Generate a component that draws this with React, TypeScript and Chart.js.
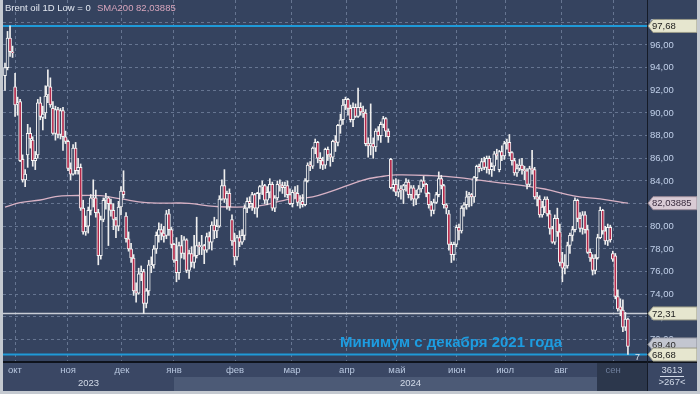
import React, { useEffect, useRef } from 'react';
import { Chart, registerables } from 'chart.js';

Chart.register(...registerables);

// ---------- DATA (Brent oil, daily candles, 26 Sep 2023 .. 10 Sep 2024) ----------
const opens: number[] = [
  93.3, 94.0, 96.6, 95.4,
  92.3, 90.8, 91.0, 85.9, 84.1, 86.3, 88.2, 87.6, 85.8, 86.3, 90.9, 89.6, 90.0, 91.6, 92.3, 90.4, 88.2, 90.3, 88.1, 90.2, 87.9, 87.5,
  85.1, 84.6, 86.9, 84.9, 85.2, 81.6, 79.5, 80.0, 81.4, 82.5, 82.5, 81.2, 77.4, 80.6, 82.3, 82.5, 82.0, 81.4, 80.6, 80.0, 81.7, 83.1,
  80.9, 78.9, 78.0, 77.2, 74.3, 74.1, 75.8, 76.0, 73.2, 74.3, 76.5, 76.6, 78.0, 79.2, 79.7, 79.4, 79.2, 81.1, 79.7, 78.4,
  77.0, 75.9, 78.3, 77.6, 78.8, 76.1, 77.6, 76.8, 77.4, 78.3, 78.2, 78.3, 77.9, 79.1, 78.6, 80.1, 79.6, 80.0, 82.4, 83.6, 82.4, 82.9,
  80.6, 78.7, 77.3, 79.0, 78.6, 79.2, 81.6, 82.2, 82.0, 82.8, 81.6, 82.9, 83.5, 83.6, 82.3, 83.0, 83.7, 81.6, 82.5, 83.7, 83.6,
  83.4, 83.6, 82.8, 82.0, 83.0, 82.9, 82.1, 82.2, 81.9, 84.0, 85.4, 85.3, 86.9, 87.4, 86.0, 85.8, 85.4, 86.8, 86.3, 86.1,
  87.5, 87.4, 88.9, 89.4, 90.7, 91.2, 90.4, 89.4, 90.5, 89.7, 90.5, 90.1, 90.0, 87.3, 87.1, 87.3, 87.0, 88.4, 88.0, 89.0, 89.5, 88.4,
  85.9, 83.4, 83.7, 83.0, 83.3, 83.2, 83.6, 83.9, 82.8, 83.4, 82.4, 82.8, 83.3, 84.0, 83.7, 82.9, 81.9, 81.4, 82.1, 82.8, 84.2, 83.6, 81.9,
  81.1, 78.4, 77.5, 78.4, 79.9, 79.6, 81.6, 81.9, 82.6, 82.8, 82.6, 84.3, 85.3, 85.1, 85.7, 85.2, 86.0, 85.0, 85.3, 86.4,
  85.0, 86.6, 86.2, 87.3, 87.4, 86.5, 85.8, 84.7, 85.1, 85.4, 85.0, 84.9, 83.7, 85.1, 85.0, 82.6, 82.4, 81.0, 81.7, 82.4, 81.1, 79.8, 78.6,
  80.7, 79.5, 76.8, 76.3, 76.5, 78.3, 79.2, 79.7, 82.3, 80.7, 79.8, 81.0, 79.7, 77.7, 77.2, 76.1, 77.2, 79.0, 81.4, 79.6, 78.7, 79.9,
  77.6, 77.4, 73.8, 72.9, 72.6, 71.1, 71.8,
];
const highs: number[] = [
  94.4, 97.2, 97.68, 95.9,
  93.5, 91.4, 91.2, 86.3, 85.0, 89.0, 88.7, 87.9, 86.6, 91.2, 91.4, 90.6, 92.4, 93.8, 93.1, 91.0, 90.6, 90.5, 90.4, 90.5, 88.4, 87.6,
  85.6, 87.2, 87.4, 86.0, 85.5, 82.3, 80.9, 81.7, 82.8, 84.1, 83.2, 81.5, 80.9, 82.5, 82.9, 82.6, 82.4, 82.0, 80.8, 82.2, 83.5, 84.9,
  81.2, 79.5, 78.5, 77.5, 75.0, 76.3, 76.5, 76.2, 74.5, 77.0, 77.3, 78.3, 79.5, 80.3, 80.2, 80.0, 81.4, 81.5, 79.9, 78.5,
  79.0, 78.6, 79.2, 79.1, 78.9, 77.9, 78.2, 79.2, 80.8, 78.6, 79.2, 78.4, 79.4, 79.5, 80.4, 80.8, 80.6, 82.7, 84.1, 85.0, 83.1, 83.3,
  81.0, 79.4, 79.2, 79.6, 79.7, 81.9, 82.5, 82.6, 83.0, 82.9, 83.0, 83.6, 84.0, 83.7, 83.5, 84.2, 83.9, 82.7, 84.0, 84.1, 83.9,
  83.9, 84.0, 83.3, 83.2, 83.5, 83.6, 82.7, 82.8, 84.2, 85.6, 85.7, 87.0, 87.7, 87.5, 86.5, 86.1, 86.9, 87.0, 86.4, 87.6,
  88.0, 89.0, 89.9, 91.2, 91.4, 91.3, 90.7, 90.9, 90.8, 92.2, 90.9, 90.6, 90.3, 87.8, 90.8, 87.8, 88.6, 88.8, 89.2, 89.7, 89.6, 88.6,
  86.0, 84.1, 84.2, 84.1, 83.6, 83.7, 84.2, 84.1, 83.6, 83.6, 83.2, 83.6, 84.1, 84.4, 83.8, 83.0, 82.2, 82.4, 83.0, 84.8, 84.5, 83.7, 82.0,
  81.4, 78.6, 78.6, 80.1, 80.2, 81.8, 82.1, 83.1, 83.0, 82.9, 84.4, 85.4, 85.5, 86.0, 86.1, 86.2, 86.2, 85.6, 86.6, 86.8,
  86.7, 87.1, 87.5, 87.7, 88.1, 86.6, 86.0, 85.5, 85.9, 86.0, 85.3, 85.1, 85.3, 86.7, 85.2, 83.0, 82.7, 82.2, 82.6, 82.6, 81.4, 80.0, 81.0,
  81.6, 80.2, 77.7, 77.5, 78.6, 79.4, 80.0, 82.5, 82.4, 81.2, 81.3, 81.3, 80.1, 78.0, 77.5, 77.5, 79.3, 81.7, 81.5, 80.0, 80.2, 80.1,
  77.8, 77.6, 74.4, 73.6, 73.5, 72.4, 71.9,
];
const lows: number[] = [
  92.0, 93.8, 95.0, 94.9,
  89.7, 89.8, 85.7, 83.9, 83.5, 85.2, 86.9, 85.3, 85.0, 86.0, 89.4, 88.5, 89.5, 90.9, 90.5, 88.1, 87.6, 87.8, 87.7, 86.7, 87.3, 84.9,
  84.1, 84.5, 84.6, 84.6, 81.4, 79.3, 79.2, 79.4, 81.0, 81.7, 80.8, 76.6, 77.1, 80.4, 81.5, 78.3, 80.9, 79.7, 79.0, 79.6, 81.0, 82.5,
  78.6, 77.8, 76.8, 73.9, 73.3, 74.0, 75.2, 72.3, 72.8, 73.9, 75.9, 76.3, 77.6, 78.6, 78.8, 78.6, 78.9, 79.2, 78.1, 76.8,
  75.1, 75.3, 77.2, 77.1, 75.9, 75.4, 76.4, 76.3, 77.2, 77.5, 77.5, 76.7, 77.7, 78.0, 77.9, 78.9, 79.0, 79.9, 82.3, 82.1, 81.5, 81.4,
  78.3, 76.6, 77.0, 78.2, 78.4, 78.8, 81.2, 81.6, 81.4, 81.1, 80.8, 82.4, 82.8, 82.0, 81.9, 82.5, 81.4, 81.3, 82.3, 83.1, 82.9,
  82.6, 82.5, 81.9, 81.7, 82.5, 81.8, 81.6, 81.7, 81.8, 83.9, 84.9, 85.1, 86.4, 85.6, 85.1, 85.0, 85.1, 85.8, 85.3, 85.7,
  86.6, 87.1, 88.2, 89.0, 90.3, 89.8, 89.2, 88.8, 89.6, 89.6, 89.8, 89.6, 87.1, 86.1, 86.3, 86.0, 86.6, 87.6, 87.4, 88.7, 87.9, 87.4,
  83.3, 83.1, 82.7, 82.6, 82.4, 82.0, 83.1, 82.5, 82.3, 81.8, 81.9, 82.5, 83.0, 83.5, 82.6, 81.6, 80.9, 81.1, 82.0, 82.6, 83.3, 81.6, 81.1,
  77.9, 76.8, 77.0, 78.2, 78.8, 79.4, 80.9, 81.5, 81.7, 81.8, 82.1, 84.0, 84.8, 84.9, 85.0, 84.7, 84.6, 84.4, 84.9, 85.9,
  84.8, 85.8, 85.9, 86.8, 86.2, 85.4, 84.5, 84.4, 84.9, 84.6, 84.1, 83.3, 83.5, 84.6, 82.4, 81.8, 80.8, 80.8, 81.2, 80.9, 79.3, 78.5, 78.4,
  79.1, 76.5, 75.1, 75.8, 76.3, 77.6, 78.7, 79.5, 80.4, 79.5, 79.3, 79.4, 77.6, 76.9, 75.7, 75.8, 77.1, 78.9, 79.3, 78.4, 78.3, 78.6,
  76.9, 73.6, 72.5, 72.1, 70.7, 70.8, 68.68,
];
const closes: number[] = [
  94.0, 96.6, 95.4, 95.3,
  90.7, 90.9, 85.8, 84.1, 84.6, 88.2, 87.7, 85.8, 86.0, 90.9, 89.7, 89.9, 91.5, 92.4, 90.7, 88.2, 90.3, 88.1, 90.2, 87.9, 87.5, 85.1,
  84.6, 86.9, 84.9, 85.2, 81.6, 79.5, 80.0, 81.4, 82.5, 82.4, 81.2, 77.4, 80.6, 82.3, 82.5, 82.0, 81.4, 80.6, 80.0, 81.7, 83.1, 82.8,
  78.9, 78.0, 77.2, 74.3, 74.1, 75.8, 76.0, 73.2, 74.3, 76.6, 76.6, 78.0, 79.2, 79.7, 79.4, 79.1, 81.1, 79.7, 78.4, 77.0,
  75.9, 78.3, 77.6, 78.8, 76.1, 77.6, 76.8, 77.4, 78.3, 78.2, 78.3, 77.9, 79.1, 78.6, 80.1, 79.6, 80.0, 82.4, 83.6, 82.4, 82.9, 81.7,
  78.7, 77.3, 79.0, 78.6, 79.2, 81.6, 82.2, 82.0, 82.8, 81.6, 82.9, 83.5, 83.6, 82.3, 83.0, 83.7, 81.6, 82.5, 83.7, 83.6, 83.4,
  83.6, 82.8, 82.0, 83.0, 82.9, 82.1, 82.2, 81.9, 84.0, 85.4, 85.3, 86.9, 87.4, 86.0, 85.8, 85.4, 86.8, 86.3, 86.1, 87.5,
  87.4, 88.9, 89.4, 90.7, 91.2, 90.4, 89.4, 90.5, 89.7, 90.5, 90.1, 90.0, 87.3, 87.1, 87.3, 87.0, 88.4, 88.0, 89.0, 89.5, 88.4, 87.9,
  83.4, 83.7, 83.0, 83.3, 83.2, 83.6, 83.9, 82.8, 83.4, 82.4, 82.8, 83.3, 84.0, 83.7, 82.9, 81.9, 81.4, 82.1, 82.8, 84.2, 83.6, 81.9, 81.6,
  78.4, 77.5, 78.4, 79.9, 79.6, 81.6, 81.9, 82.6, 82.8, 82.6, 84.3, 85.3, 85.1, 85.7, 85.2, 86.0, 85.0, 85.3, 86.4, 86.2,
  86.6, 86.2, 87.3, 87.4, 86.5, 85.8, 84.7, 85.1, 85.4, 85.0, 84.9, 83.7, 85.1, 85.0, 82.6, 82.4, 81.0, 81.7, 82.4, 81.1, 79.8, 78.6, 80.7,
  79.5, 76.8, 76.3, 76.5, 78.3, 79.2, 79.7, 82.3, 80.7, 79.8, 81.0, 79.7, 77.7, 77.2, 76.1, 77.2, 79.0, 81.4, 79.6, 78.7, 79.9, 78.8,
  77.1, 73.8, 72.7, 72.6, 71.1, 71.8, 69.4,
];

// SMA200 (bar index -> value)
const smaIndex: number[] = [0, 6, 14, 20, 26, 38, 46, 56, 65, 73, 83, 99, 113, 122, 129, 142, 149, 155, 169, 180, 194, 208, 214, 226, 236, 247];
const smaValue: number[] = [81.68, 82.08, 82.32, 82.61, 82.70, 82.70, 82.41, 82.08, 82.05, 82.03, 81.75, 81.75, 82.4, 82.6, 83.05, 84.08, 84.38, 84.53, 84.47, 84.30, 83.90, 83.50, 83.29, 82.67, 82.41, 82.03885];

// axis
const monthLabels: string[] = ['окт', 'ноя', 'дек', 'янв', 'фев', 'мар', 'апр', 'май', 'июн', 'июл', 'авг', 'сен'];
const monthTickAt: number[] = [3.97, 24.98, 46.39, 67.01, 91.2, 113.8, 135.6, 155.4, 179.2, 198.3, 220.5, 241.1];
const yearLabels: string[] = ['2023', '2024'];
const yTicks: number[] = [70, 72, 74, 76, 78, 80, 82, 84, 86, 88, 90, 92, 94, 96, 98];

// levels / labels
const highLevel = 97.68;
const decLowLevel = 72.31;
const lowLevel = 68.68;
const lastPrice = 69.40;
const smaLast = 82.03885;
const titleText = 'Brent oil 1D Low = 0';
const noteText = 'Минимум с декабря 2021 года';
const barsCount = '3613';
const barsVisible = '>267<';

// ---------- STYLE ----------
const BG = '#35435f';
const GRID = '#667591';
const FONT = '"Liberation Sans", Arial, sans-serif';
const fmt = (v: number, d = 2) => v.toFixed(d).replace('.', ',');

const terminalPlugin = {
  id: 'terminal',
  beforeDraw(chart: any) {
    const { ctx, chartArea: a, scales } = chart;
    const x = scales.x;
    const W = chart.width, H = chart.height;
    ctx.save();
    ctx.fillStyle = BG;
    ctx.fillRect(0, 0, W, H);
    // bottom time panel
    ctx.fillStyle = '#3a4764';
    ctx.fillRect(0, a.bottom, W, H - a.bottom);
    const janX = x.getPixelForValue(monthTickAt[3]);
    const sepX = x.getPixelForValue(monthTickAt[11]);
    ctx.fillStyle = '#4c5a76';
    ctx.fillRect(janX, a.bottom + 16, sepX - 16 - janX, 14);
    ctx.fillStyle = '#2c374c';
    ctx.fillRect(sepX - 16, a.bottom + 2, a.right - (sepX - 16), 28);
    ctx.restore();
  },
  beforeDatasetsDraw(chart: any) {
    const { ctx, chartArea: a, scales } = chart;
    const y = scales.y;
    ctx.save();
    const hline = (v: number, color: string, w: number) => {
      const py = y.getPixelForValue(v);
      ctx.strokeStyle = color;
      ctx.lineWidth = w;
      ctx.beginPath();
      ctx.moveTo(a.left, py);
      ctx.lineTo(a.right, py);
      ctx.stroke();
    };
    hline(highLevel, '#1f9ad8', 2);
    hline(decLowLevel, '#c9cdd6', 1.5);
    hline(lowLevel, '#1f9ad8', 2);
    ctx.restore();
  },
  afterDraw(chart: any) {
    const { ctx, chartArea: a, scales } = chart;
    const x = scales.x, y = scales.y;
    const W = chart.width, H = chart.height;
    ctx.save();
    // axis separators
    ctx.fillStyle = '#0e131c';
    ctx.fillRect(0, a.bottom, W, 2);
    ctx.fillStyle = '#151b27';
    ctx.fillRect(a.right, 0, 1, H - 3);

    // price tags on right axis
    const tag = (py: number, text: string, fill: string, stroke: string, color: string) => {
      const x0 = a.right + 1, x1 = a.right + 6, x2 = W - 3, h = 6.5;
      ctx.beginPath();
      ctx.moveTo(x0, py);
      ctx.lineTo(x1, py - h);
      ctx.lineTo(x2, py - h);
      ctx.lineTo(x2, py + h);
      ctx.lineTo(x1, py + h);
      ctx.closePath();
      ctx.fillStyle = fill;
      ctx.fill();
      ctx.strokeStyle = stroke;
      ctx.lineWidth = 1;
      ctx.stroke();
      ctx.fillStyle = color;
      ctx.font = `9.5px ${FONT}`;
      ctx.textBaseline = 'middle';
      ctx.textAlign = 'left';
      ctx.fillText(text, a.right + 5, py + 0.5);
    };
    tag(y.getPixelForValue(highLevel), fmt(highLevel), '#e6e6cf', '#9a9a88', '#1c1c1c');
    tag(y.getPixelForValue(smaLast), fmt(smaLast, 5), '#d9cbd5', '#9a8a98', '#3a2c3e');
    tag(y.getPixelForValue(decLowLevel), fmt(decLowLevel), '#e6e6cf', '#9a9a88', '#1c1c1c');
    tag(y.getPixelForValue(lastPrice) - 2, fmt(lastPrice), '#c3c6d0', '#8a8e9a', '#2a2a2a');
    tag(y.getPixelForValue(lowLevel), fmt(lowLevel), '#e6e6cf', '#9a9a88', '#1c1c1c');

    // legend line
    ctx.textBaseline = 'middle';
    ctx.textAlign = 'left';
    ctx.font = `9.5px ${FONT}`;
    ctx.fillStyle = '#e4e9f2';
    ctx.fillText(titleText, 5, 8);
    ctx.fillStyle = '#d9a6bd';
    ctx.fillText(`SMA200 ${fmt(smaLast, 5)}`, 97, 8);

    // annotation
    ctx.font = `bold 15px ${FONT}`;
    ctx.fillStyle = '#1d9ce0';
    ctx.fillText(noteText, 340, 343);

    // small marker
    ctx.font = `9px ${FONT}`;
    ctx.fillStyle = '#dfe4ee';
    ctx.fillText('7', a.right - 12, a.bottom - 3);

    // year labels
    const janX = x.getPixelForValue(monthTickAt[3]);
    ctx.font = `9.5px ${FONT}`;
    ctx.fillStyle = '#d2dae8';
    ctx.textAlign = 'center';
    ctx.fillText(yearLabels[0], (a.left + janX) / 2, a.bottom + 22);
    ctx.fillText(yearLabels[1], (janX + a.right) / 2, a.bottom + 22);

    // corner counters
    const cx = (a.right + W - 3) / 2;
    ctx.fillStyle = '#d2dae8';
    ctx.fillText(barsCount, cx, a.bottom + 9.5);
    ctx.fillRect(cx - 12, a.bottom + 15, 24, 1);
    ctx.fillText(barsVisible, cx, a.bottom + 21);

    // outer frame
    ctx.fillStyle = '#c4c9d0';
    ctx.fillRect(0, 0, 3, H);
    ctx.fillRect(W - 3, 0, 3, H);
    ctx.fillRect(0, H - 3, W, 3);
    ctx.restore();
  },
};

export default function App() {
  const ref = useRef<HTMLCanvasElement>(null);

  useEffect(() => {
    const canvas = ref.current;
    if (!canvas) return;
    const n = closes.length;
    const idx = Array.from({ length: n }, (_, i) => i);
    const bodyColors = idx.map((i) => (closes[i] >= opens[i] ? BG : '#b3284a'));

    const chart = new Chart(canvas, {
      type: 'bar',
      data: {
        datasets: [
          {
            type: 'bar',
            label: 'body',
            data: idx.map((i) => ({ x: i, y: [opens[i], closes[i]] })) as any,
            backgroundColor: bodyColors,
            borderColor: '#f4f4f4',
            borderWidth: 1,
            borderSkipped: false,
            barThickness: 3,
            minBarLength: 1,
            grouped: false,
            order: 0,
          } as any,
          {
            type: 'bar',
            label: 'wick',
            data: idx.map((i) => ({ x: i, y: [lows[i], highs[i]] })) as any,
            backgroundColor: '#eeeeee',
            borderWidth: 0,
            barThickness: 1,
            grouped: false,
            order: 1,
          } as any,
          {
            type: 'line',
            label: 'SMA200',
            data: smaIndex.map((xi, k) => ({ x: xi, y: smaValue[k] })) as any,
            borderColor: '#d8b2c5',
            borderWidth: 1.3,
            pointRadius: 0,
            tension: 0.4,
            order: 2,
          } as any,
        ],
      },
      options: {
        responsive: false,
        animation: false,
        devicePixelRatio: 1,
        events: [],
        layout: { padding: { left: 3, top: 0, right: 0, bottom: 0 } },
        plugins: { legend: { display: false }, tooltip: { enabled: false } },
        scales: {
          x: {
            type: 'linear',
            min: -0.79,
            max: 254.56,
            offset: false,
            afterBuildTicks: (s: any) => {
              s.ticks = monthTickAt.map((v) => ({ value: v }));
            },
            afterFit: (s: any) => {
              s.height = 33;
              s.paddingLeft = 0;
              s.paddingRight = 0;
            },
            grid: { color: GRID, lineWidth: 1, drawTicks: false, offset: false },
            border: { display: false, dash: [3, 3] },
            ticks: {
              autoSkip: false,
              maxRotation: 0,
              padding: 4,
              font: { family: FONT, size: 9.5 },
              color: (c: any) => (c.index === 11 ? '#6f7f9c' : '#b8c7df'),
              callback: (_v: any, i: number) => monthLabels[i],
            },
          },
          y: {
            type: 'linear',
            position: 'right',
            min: 68.11,
            max: 99.97,
            afterBuildTicks: (s: any) => {
              s.ticks = yTicks.map((v) => ({ value: v }));
            },
            afterFit: (s: any) => {
              s.width = 53;
              s.paddingTop = 0;
              s.paddingBottom = 0;
            },
            grid: { color: GRID, lineWidth: 1, drawTicks: false },
            border: { display: false, dash: [3, 3] },
            ticks: {
              autoSkip: false,
              padding: 3,
              font: { family: FONT, size: 9.5 },
              color: '#c2d1ea',
              callback: (v: any) => fmt(Number(v)),
            },
          },
        },
      } as any,
      plugins: [terminalPlugin as any],
    });
    return () => chart.destroy();
  }, []);

  return (
    <div style={{ position: 'fixed', left: 0, top: 0, width: 700, height: 394 }}>
      <canvas ref={ref} width={700} height={394} style={{ display: 'block', width: 700, height: 394 }} />
    </div>
  );
}
